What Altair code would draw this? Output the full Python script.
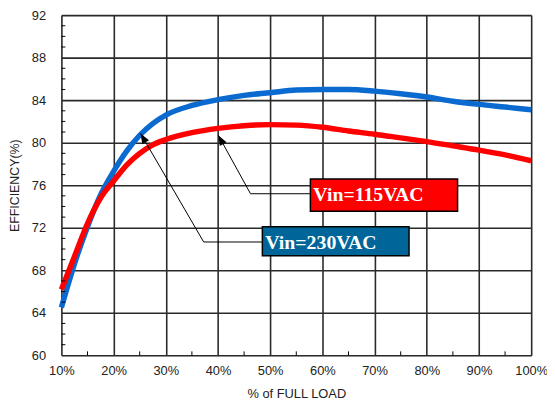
import altair as alt
import pandas as pd

# ---- data ----
load = [10, 12.5, 15, 17.5, 20, 22.5, 25, 27.5, 30, 35, 40, 45, 50, 55, 60, 65, 70, 75, 80, 85, 90, 95, 100]
eff_230 = [64.5, 68.6, 72.1, 75.1, 77.3, 79.2, 80.7, 81.8, 82.6, 83.5, 84.05, 84.45, 84.7, 84.95,
           85.0, 85.0, 84.85, 84.6, 84.3, 83.9, 83.6, 83.35, 83.1]
eff_115 = [66.2, 69.3, 72.4, 74.8, 76.4, 77.9, 79.0, 79.8, 80.3, 80.95, 81.35, 81.6, 81.7, 81.65,
           81.45, 81.1, 80.8, 80.45, 80.1, 79.7, 79.3, 78.85, 78.3]

x_ticks = [10, 20, 30, 40, 50, 60, 70, 80, 90, 100]
y_ticks = [60, 64, 68, 72, 76, 80, 84, 88, 92]
x_minor = [15, 25, 35, 45, 55, 65, 75, 85, 95]
y_minor = [v for v in range(61, 92) if v % 4 != 0]

labels = ["Vin=115VAC", "Vin=230VAC"]
box_x1 = [57.7, 48.5]
box_x2 = [85.9, 76.6]
box_y1 = [73.55, 69.36]
box_y2 = [76.58, 72.1]
text_y = [74.49, 69.98]
box_fill = ["#FF0000", "#006699"]

# arrow callouts: tip -> elbow -> box
tip_x = [40.05, 25.17]
tip_y = [80.71, 80.87]
elbow_x = [46.23, 37.26]
elbow_y = [75.2, 70.66]
arrow_angle = [331, 330]

# ---- tables ----
df_230 = pd.DataFrame({"load": load, "eff": eff_230})
df_115 = pd.DataFrame({"load": load, "eff": eff_115})
df_box = pd.DataFrame({"label": labels, "x1": box_x1, "x2": box_x2, "y1": box_y1,
                       "y2": box_y2, "ty": text_y, "fill": box_fill})
seg_rows = []
for i in range(2):
    seg_rows.append({"x": tip_x[i], "y": tip_y[i], "x2": elbow_x[i], "y2": elbow_y[i]})
    seg_rows.append({"x": elbow_x[i], "y": elbow_y[i], "x2": box_x1[i], "y2": elbow_y[i]})
df_seg = pd.DataFrame(seg_rows)
df_tip = pd.DataFrame({"x": tip_x, "y": tip_y, "angle": arrow_angle})
df_xminor = pd.DataFrame({"x": x_minor})
df_yminor = pd.DataFrame({"y": y_minor})

W, H = 475, 344
FONT = "Liberation Sans"

xscale = alt.Scale(domain=[10, 100], nice=False, zero=False)
yscale = alt.Scale(domain=[60, 92], nice=False, zero=False)

xaxis = alt.Axis(values=x_ticks, labelExpr="datum.value + '%'", grid=True, ticks=False,
                 domain=False, labelFont=FONT, labelFontSize=13, labelColor="#222",
                 labelPadding=9, title="% of FULL LOAD", titleFont=FONT, titleFontSize=13,
                 titleFontWeight="normal", titleColor="#222", titlePadding=11,
                 gridColor="#2a2a2a", gridWidth=1.6, labelFlush=False)
yaxis = alt.Axis(values=y_ticks, grid=True, ticks=False, domain=False, labelFont=FONT,
                 labelFontSize=13, labelColor="#222", labelPadding=16,
                 title="EFFICIENCY(%)", titleFont=FONT, titleFontSize=12.5,
                 titleFontWeight="normal", titleColor="#222", titlePadding=10,
                 gridColor="#2a2a2a", gridWidth=1.6)

blue = alt.Chart(df_230).mark_line(strokeWidth=5.5, interpolate="monotone", color="#0A6AD0").encode(
    x=alt.X("load:Q", scale=xscale, axis=xaxis),
    y=alt.Y("eff:Q", scale=yscale, axis=yaxis),
)
red = alt.Chart(df_115).mark_line(strokeWidth=5.5, interpolate="monotone", color="#FF0000").encode(
    x="load:Q", y="eff:Q"
)

yminor = alt.Chart(df_yminor).mark_rule(color="#000", strokeWidth=1).encode(
    y="y:Q", x=alt.value(0), x2=alt.value(4)
)
xminor = alt.Chart(df_xminor).mark_rule(color="#000", strokeWidth=1).encode(
    x="x:Q", y=alt.value(H), y2=alt.value(H - 4)
)

segs = alt.Chart(df_seg).mark_rule(color="#000", strokeWidth=1).encode(
    x="x:Q", y="y:Q", x2="x2:Q", y2="y2:Q"
)
heads = alt.Chart(df_tip).mark_point(
    shape="M0,0 L-0.38,1 L0.38,1 Z", filled=True, color="#000", size=420, opacity=1
).encode(x="x:Q", y="y:Q", angle=alt.Angle("angle:Q", scale=None))

boxes = alt.Chart(df_box).mark_rect(stroke="#000", strokeWidth=1.5).encode(
    x="x1:Q", x2="x2:Q", y="y1:Q", y2="y2:Q", fill=alt.Fill("fill:N", scale=None)
)
texts = alt.Chart(df_box).mark_text(
    align="left", baseline="alphabetic", dx=3, font="Liberation Serif", fontWeight="bold",
    fontSize=20, color="#FFFFFF"
).encode(x="x1:Q", y="ty:Q", text="label:N")

chart = alt.layer(blue, red, yminor, xminor, segs, heads, boxes, texts).properties(
    width=W, height=H,
    autosize=alt.AutoSizeParams(type="none"),
    padding={"left": 54, "top": 5, "right": 16, "bottom": 45},
).configure_view(stroke="#000", strokeWidth=2).configure(background="#FFFFFF")

chart.save("out.html", embed_options={"renderer": "svg", "actions": False})
